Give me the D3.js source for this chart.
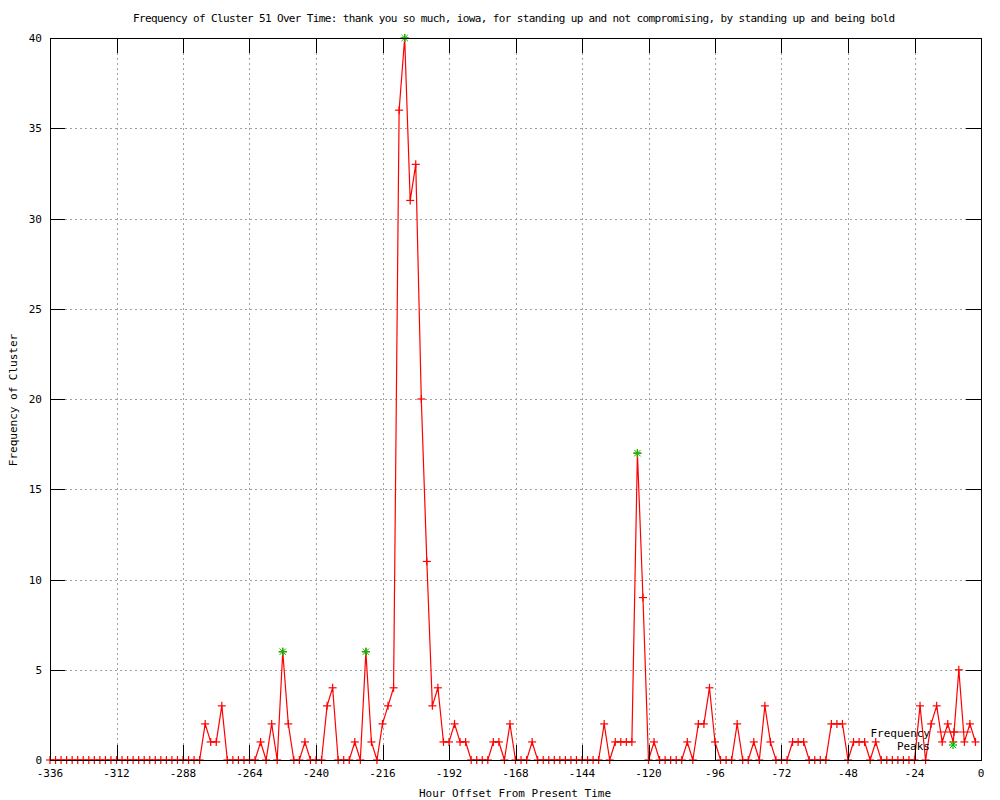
<!DOCTYPE html>
<html><head><meta charset="utf-8">
<script src="https://cdn.jsdelivr.net/npm/d3@7"></script>
<style>body{margin:0;background:#fff}text{font-family:"DejaVu Sans Mono",monospace;font-size:11px;fill:#000}</style>
</head><body><svg id="c" width="1000" height="800"></svg>
<script>
const titleText = "Frequency of Cluster 51 Over Time: thank you so much, iowa, for standing up and not compromising, by standing up and being bold";
const xLabel = "Hour Offset From Present Time";
const yLabel = "Frequency of Cluster";
const startHour = -336, stepHours = 2;
const freq = [
 0,0,0,0,0,0,0,0,0,0,0,0,0,0,0,0,0,0,0,0,0,0,0,0,0,0,0,0,
 2,1,1,3,0,0,0,0,0,0,1,0,2,0,6,2,0,0,1,0,0,0,3,4,0,0,0,1,0,6,1,0,2,3,4,
 36,40,31,33,20,11,3,4,1,1,2,1,1,0,0,0,0,1,1,0,2,0,0,0,1,0,
 0,0,0,0,0,0,0,0,0,0,0,
 2,0,1,1,1,1,17,9,0,1,0,0,0,0,0,1,0,2,2,4,1,0,0,0,2,0,0,1,0,3,1,0,0,0,1,1,1,0,0,0,0,
 2,2,2,0,1,1,1,0,1,0,0,0,0,0,0,0,3,0,2,3,1,2,1,5,1,2,1
];
const peakHours = [-252, -222, -208, -124];
const peakValues = [6, 6, 40, 17];
const xTicks = [-336,-312,-288,-264,-240,-216,-192,-168,-144,-120,-96,-72,-48,-24,0];
const yTicks = [0,5,10,15,20,25,30,35,40];

const data = freq.map((v,i)=>({h: startHour + stepHours*i, v}));
const svg = d3.select("#c");
const L=50,R=981,T=38,B=760;
const x = d3.scaleLinear().domain([-336,0]).range([L,R]);
const y = d3.scaleLinear().domain([0,40]).range([B,T]);

// grid
const g = svg.append("g").attr("stroke","#a0a0a0").attr("stroke-dasharray","2,3").attr("shape-rendering","crispEdges");
xTicks.slice(1,-1).forEach(t=>g.append("line").attr("x1",Math.round(x(t))+0.5).attr("x2",Math.round(x(t))+0.5).attr("y1",T).attr("y2",B));
yTicks.slice(1,-1).forEach(t=>g.append("line").attr("y1",Math.round(y(t))+0.5).attr("y2",Math.round(y(t))+0.5).attr("x1",L).attr("x2",R));

// data line
svg.append("path").datum(data).attr("fill","none").attr("stroke","#ff0000").attr("stroke-width",1.2)
 .attr("d", d3.line().x(d=>x(d.h)).y(d=>y(d.v)));
const plus = (sel, cx, cy, col, s)=>{
  sel.append("line").attr("x1",cx-s).attr("x2",cx+s).attr("y1",cy).attr("y2",cy).attr("stroke",col).attr("stroke-width",1.2);
  sel.append("line").attr("x1",cx).attr("x2",cx).attr("y1",cy-s).attr("y2",cy+s).attr("stroke",col).attr("stroke-width",1.2);
};
const star = (sel, cx, cy, col, s)=>{
  plus(sel,cx,cy,col,s);
  sel.append("line").attr("x1",cx-s*0.8).attr("x2",cx+s*0.8).attr("y1",cy-s*0.8).attr("y2",cy+s*0.8).attr("stroke",col);
  sel.append("line").attr("x1",cx-s*0.8).attr("x2",cx+s*0.8).attr("y1",cy+s*0.8).attr("y2",cy-s*0.8).attr("stroke",col);
};
const pts = svg.append("g");
data.forEach(d=>plus(pts, x(d.h), y(d.v), "#ff0000", 4));
const pk = svg.append("g");
peakHours.forEach((h,i)=>star(pk, x(h), y(peakValues[i]), "#00c000", 4));

// border and ticks
const ax = svg.append("g").attr("stroke","#000").attr("shape-rendering","crispEdges");
ax.append("rect").attr("x",L+0.5).attr("y",T+0.5).attr("width",R-L).attr("height",B-T).attr("fill","none");
xTicks.forEach(t=>{
  const px=Math.round(x(t))+0.5;
  ax.append("line").attr("x1",px).attr("x2",px).attr("y1",B).attr("y2",B-15);
  ax.append("line").attr("x1",px).attr("x2",px).attr("y1",T).attr("y2",T+15);
  svg.append("text").attr("x",x(t)).attr("y",B+17).attr("text-anchor","middle").text(t);
});
yTicks.forEach(t=>{
  const py=Math.round(y(t))+0.5;
  ax.append("line").attr("x1",L).attr("x2",L+15).attr("y1",py).attr("y2",py);
  ax.append("line").attr("x1",R).attr("x2",R-15).attr("y1",py).attr("y2",py);
  svg.append("text").attr("x",L-8).attr("y",y(t)+4).attr("text-anchor","end").text(t);
});

// labels
svg.append("text").attr("x",514).attr("y",22).attr("text-anchor","middle").attr("textLength",762).text(titleText);
svg.append("text").attr("x",515).attr("y",797).attr("text-anchor","middle").text(xLabel);
svg.append("text").attr("transform","translate(17,400) rotate(-90)").attr("text-anchor","middle").text(yLabel);

// legend
svg.append("text").attr("x",930).attr("y",737).attr("text-anchor","end").text("Frequency");
svg.append("line").attr("x1",937).attr("x2",971).attr("y1",732).attr("y2",732).attr("stroke","#ff0000").attr("stroke-width",1.2);
plus(svg, 954, 732, "#ff0000", 4);
svg.append("text").attr("x",930).attr("y",750).attr("text-anchor","end").text("Peaks");
star(svg, 953, 745, "#00c000", 4);
</script></body></html>
